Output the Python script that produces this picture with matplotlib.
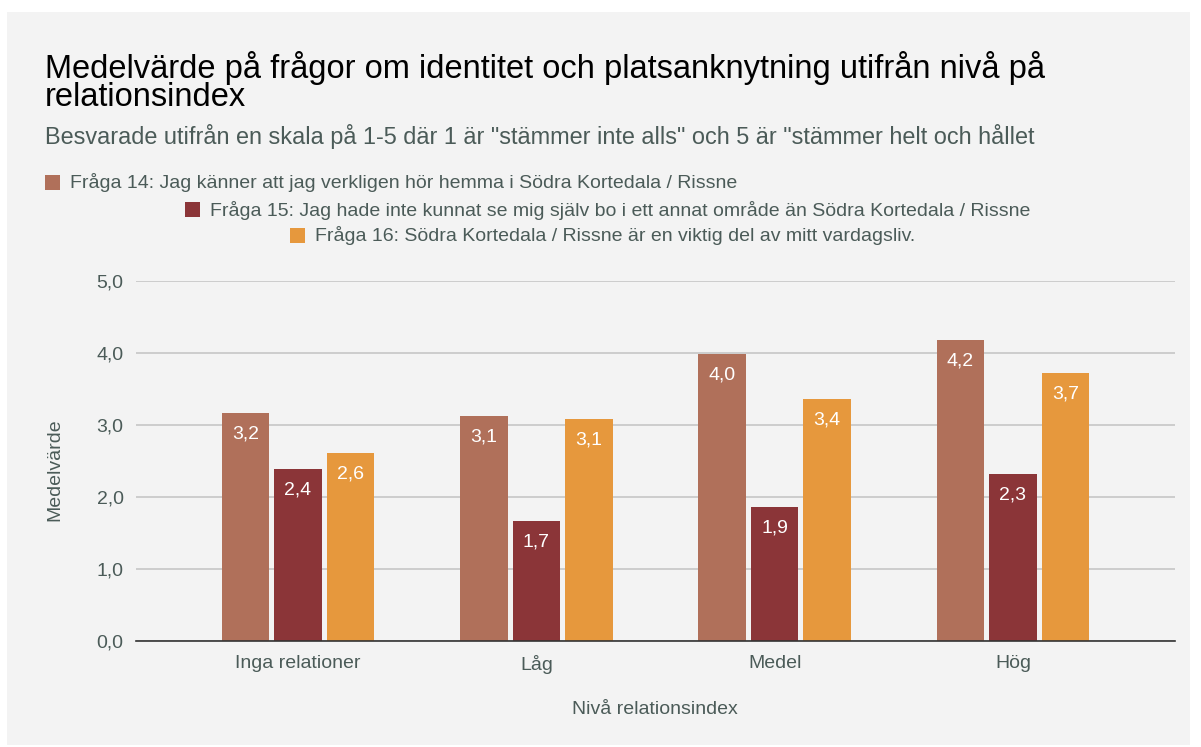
import matplotlib
matplotlib.use("Agg")
from matplotlib import pyplot as plt
from matplotlib.patches import Rectangle
import numpy as np

plt.rcParams['font.family'] = ['Liberation Sans', 'DejaVu Sans']

categories = ['Inga relationer', 'Låg', 'Medel', 'Hög']
q14 = [3.16, 3.12, 3.99, 4.18]
q15 = [2.39, 1.66, 1.86, 2.32]
q16 = [2.61, 3.08, 3.36, 3.72]
series_names = [
    'Fråga 14: Jag känner att jag verkligen hör hemma i Södra Kortedala / Rissne',
    'Fråga 15: Jag hade inte kunnat se mig själv bo i ett annat område än Södra Kortedala / Rissne',
    'Fråga 16: Södra Kortedala / Rissne är en viktig del av mitt vardagsliv.',
]
colors = ['#b0705a', '#8b3538', '#e6983d']
yticks = [0, 1, 2, 3, 4, 5]

text_col = '#4b5b58'
W, H = 1201, 747

fig = plt.figure(figsize=(W / 100, H / 100), dpi=100, facecolor='white')
fig.patches.append(Rectangle((7 / W, 1 - 745 / H), (1190 - 7) / W, (745 - 12) / H,
                             transform=fig.transFigure, facecolor='#f3f3f3',
                             edgecolor='none', zorder=-10))

ax = fig.add_axes([136 / W, 1 - 641 / H, (1175 - 136) / W, (641 - 281) / H])
ax.patch.set_alpha(0)

x = np.arange(len(categories))
width = 0.2
step = 0.22
for i, (vals, col) in enumerate(zip([q14, q15, q16], colors)):
    pos = x + (i - 1) * step
    bars = ax.bar(pos, vals, width, color=col, zorder=3)
    for b, v in zip(bars, vals):
        ax.annotate(f'{v:.1f}'.replace('.', ','), (b.get_x() + b.get_width() / 2, v),
                    xytext=(0, -9), textcoords='offset points', ha='center', va='top',
                    color='white', fontsize=14, zorder=4)

ax.set_xlim(-0.68, 3.68)
ax.set_ylim(0, 5)
ax.set_yticks(yticks)
ax.set_yticklabels([f'{t:.1f}'.replace('.', ',') for t in yticks])
ax.set_xticks(x)
ax.set_xticklabels(categories)
ax.grid(axis='y', color='#c6c6c6', linewidth=1.2, zorder=0)
ax.tick_params(axis='both', length=0, labelsize=14, colors=text_col)
ax.tick_params(axis='y', pad=9)
ax.tick_params(axis='x', pad=10)
for s in ['top', 'right', 'left']:
    ax.spines[s].set_visible(False)
ax.spines['bottom'].set_color('#333333')
ax.spines['bottom'].set_linewidth(1.2)
ax.spines['bottom'].set_zorder(5)

fig.text(55 / W, 1 - 470 / H, 'Medelvärde', rotation=90, ha='center', va='center',
         fontsize=14, color=text_col)
fig.text(655 / W, 1 - 710 / H, 'Nivå relationsindex', ha='center', va='center',
         fontsize=14, color=text_col)

fig.text(45 / W, 1 - 106 / H,
         'Medelvärde på frågor om identitet och platsanknytning utifrån nivå på\nrelationsindex',
         ha='left', va='baseline', fontsize=23.5, color='black', linespacing=0.88)
fig.text(45 / W, 1 - 144 / H,
         'Besvarade utifrån en skala på 1-5 där 1 är "stämmer inte alls" och 5 är "stämmer helt och hållet',
         ha='left', va='baseline', fontsize=16.9, color=text_col)

legend_pos = [(45, 183), (185, 210), (290, 236)]
for (lx, ly), name, col in zip(legend_pos, series_names, colors):
    fig.patches.append(Rectangle((lx / W, 1 - (ly + 7) / H), 15 / W, 15 / H,
                                 transform=fig.transFigure, facecolor=col,
                                 edgecolor='none', zorder=2))
    fig.text((lx + 25) / W, 1 - ly / H, name, ha='left', va='center',
             fontsize=14, color=text_col)

fig.savefig('out.png', dpi=100, facecolor='white')
